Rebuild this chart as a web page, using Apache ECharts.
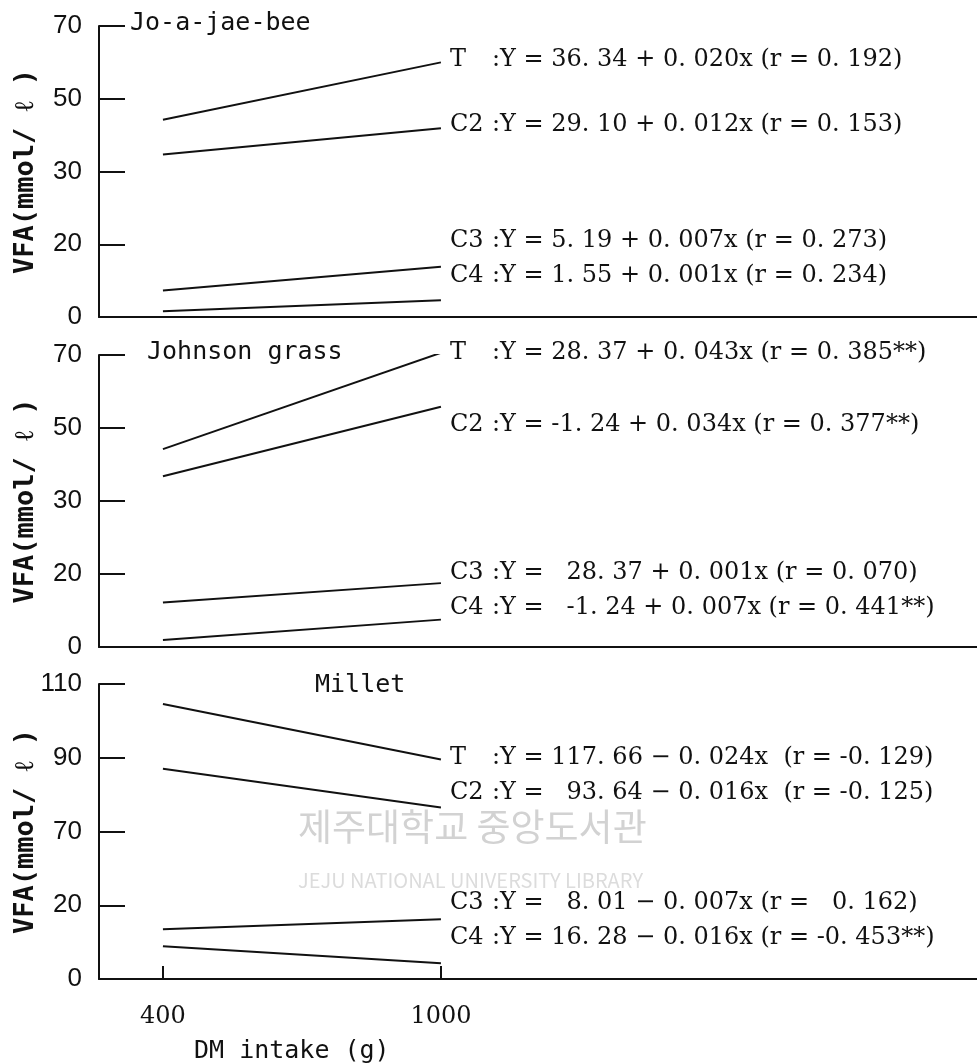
<!DOCTYPE html>
<html>
<head>
<meta charset="utf-8">
<script src="https://cdn.jsdelivr.net/npm/echarts@6/dist/echarts.min.js"></script>
<style>
html, body { margin: 0; padding: 0; background: #fff; }
#main { width: 977px; height: 1064px; }
</style>
</head>
<body>
<div id="main"></div>
<script>
// DM intake (g) at both ends of each regression line
var dmIntake = [400, 1000];
var xTicks = [400, 1000];

// y tick labels, equally spaced on the page (the axis is not linear)
var joaTicks = [0, 20, 30, 50, 70];
var johnTicks = [0, 20, 30, 50, 70];
var milletTicks = [0, 20, 70, 90, 110];

var panelNames = ['Jo-a-jae-bee', 'Johnson grass', 'Millet'];
var lineNames = ['T', 'C2', 'C3', 'C4'];

// VFA (mmol/l) at 400 g and 1000 g
var joaValues = [[44.2, 60.0], [34.7, 41.9], [7.3, 13.8], [1.6, 4.6]];
var johnValues = [[44.2, 70.6], [36.8, 55.8], [12.2, 17.5], [1.9, 7.5]];
var milletValues = [[104.6, 89.5], [87.0, 76.5], [13.5, 16.2], [8.9, 4.3]];

var joaEq = [':Y = 36. 34 + 0. 020x (r = 0. 192)', ':Y = 29. 10 + 0. 012x (r = 0. 153)',
             ':Y = 5. 19 + 0. 007x (r = 0. 273)', ':Y = 1. 55 + 0. 001x (r = 0. 234)'];
var johnEq = [':Y = 28. 37 + 0. 043x (r = 0. 385**)', ':Y = -1. 24 + 0. 034x (r = 0. 377**)',
              ':Y =   28. 37 + 0. 001x (r = 0. 070)', ':Y =   -1. 24 + 0. 007x (r = 0. 441**)'];
var milletEq = [':Y = 117. 66 − 0. 024x  (r = -0. 129)', ':Y =   93. 64 − 0. 016x  (r = -0. 125)',
                ':Y =   8. 01 − 0. 007x (r =   0. 162)', ':Y = 16. 28 − 0. 016x (r = -0. 453**)'];

var panels = [
  { ticks: joaTicks, values: joaValues, eq: joaEq, top: 26, height: 291,
    title: [130, 26], eqY: [62, 127, 243, 278] },
  { ticks: johnTicks, values: johnValues, eq: johnEq, top: 355, height: 292,
    title: [147, 355], eqY: [355, 427, 575, 610] },
  { ticks: milletTicks, values: milletValues, eq: milletEq, top: 684, height: 295,
    title: [315, 688], eqY: [760, 795, 905, 940] }
];

// value -> position on the evenly spaced tick scale
function toPos(v, ticks) {
  for (var i = 0; i < ticks.length - 1; i++) {
    if (v <= ticks[i + 1] || i == ticks.length - 2) {
      return i + (v - ticks[i]) / (ticks[i + 1] - ticks[i]);
    }
  }
}

var ink = '#111';
var grids = [], xAxes = [], yAxes = [], series = [], graphics = [];

panels.forEach(function (p, pi) {
  var last = pi == panels.length - 1;
  grids.push({ left: 99, right: 0, top: p.top, height: p.height, outerBoundsMode: 'none', containLabel: false });
  xAxes.push({
    type: 'value', gridIndex: pi, min: 262, max: 2157,
    axisLine: { show: true, lineStyle: { color: ink, width: 2 } },
    splitLine: { show: false },
    axisTick: { show: last, inside: true, length: 13, customValues: xTicks, lineStyle: { color: ink, width: 2 } },
    axisLabel: {
      show: last, customValues: xTicks, margin: 26, color: ink, fontSize: 24, fontFamily: 'DejaVu Serif',
      formatter: function (v) { return String(v); }
    }
  });
  yAxes.push({
    type: 'value', gridIndex: pi, min: 0, max: 4, interval: 1,
    name: 'VFA(mmol/ ℓ )', nameLocation: 'middle', nameRotate: 90, nameGap: 60, nameMoveOverlap: false,
    nameTextStyle: { color: ink, fontSize: 27, fontWeight: 'bold', fontFamily: 'DejaVu Sans Mono' },
    axisLine: { show: true, lineStyle: { color: ink, width: 2 } },
    splitLine: { show: false },
    axisTick: { inside: true, length: 26, lineStyle: { color: ink, width: 2 } },
    axisLabel: {
      margin: 17, color: ink, fontSize: 26, fontFamily: 'Liberation Sans',
      formatter: function (v) { return String(p.ticks[v]); }
    }
  });
  p.values.forEach(function (vals, li) {
    series.push({
      name: panelNames[pi] + ' ' + lineNames[li],
      type: 'line', xAxisIndex: pi, yAxisIndex: pi, symbol: 'none', silent: true,
      lineStyle: { color: ink, width: 2 },
      data: dmIntake.map(function (x, k) { return [x, toPos(vals[k], p.ticks)]; })
    });
    graphics.push({
      type: 'text', left: 450, top: p.eqY[li] - 14,
      style: { text: lineNames[li], fill: ink, fontSize: 24, fontFamily: 'DejaVu Serif' }
    });
    graphics.push({
      type: 'text', left: 492, top: p.eqY[li] - 14,
      style: { text: p.eq[li], fill: ink, fontSize: 24, fontFamily: 'DejaVu Serif' }
    });
  });
  graphics.push({
    type: 'text', left: p.title[0], top: p.title[1] - 15,
    style: { text: panelNames[pi], fill: ink, fontSize: 25, fontFamily: 'DejaVu Sans Mono' }
  });
});

// x axis title
graphics.push({
  type: 'text', left: 194, top: 1039,
  style: { text: 'DM intake (g)', fill: ink, fontSize: 25, fontFamily: 'DejaVu Sans Mono' }
});
// library watermark
graphics.push({
  type: 'text', left: 298, top: 808, z: -1,
  style: { text: '제주대학교 중앙도서관', fill: '#d2d2d2', fontSize: 37, fontFamily: 'Noto Sans CJK KR' }
});
graphics.push({
  type: 'text', left: 298, top: 870, z: -1,
  style: { text: 'JEJU NATIONAL UNIVERSITY LIBRARY', fill: '#dcdcdc', fontSize: 20, fontFamily: 'Noto Sans CJK KR' }
});

var chart = echarts.init(document.getElementById('main'));
chart.setOption({
  animation: false,
  backgroundColor: '#fff',
  grid: grids,
  xAxis: xAxes,
  yAxis: yAxes,
  series: series,
  graphic: graphics
});
</script>
</body>
</html>
